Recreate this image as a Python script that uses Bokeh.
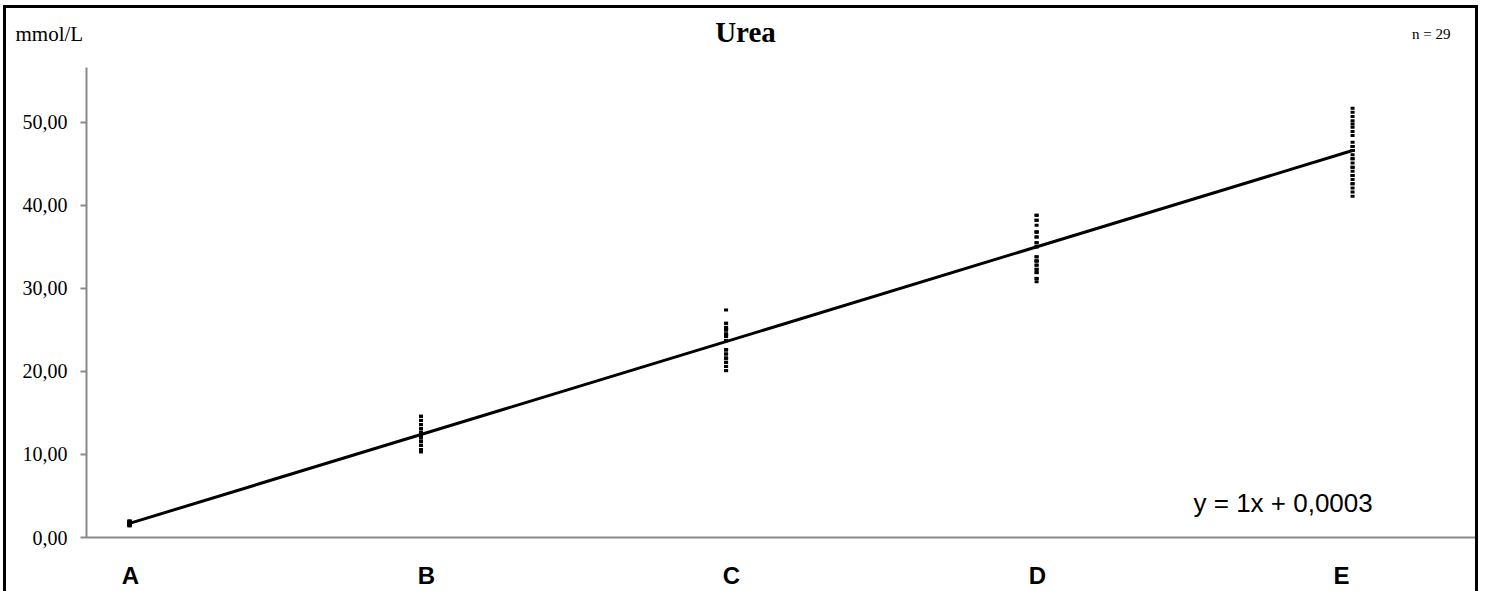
from bokeh.plotting import figure
from bokeh.models import Range1d, FixedTicker, Label, ColumnDataSource
from bokeh.core.properties import value
from bokeh.embed import file_html
from bokeh.resources import INLINE

# ---- data ----
levels = ["A", "B", "C", "D", "E"]
targets = [1.7, 12.4, 23.6, 35.0, 46.6]
vals_A = [1.4, 1.6, 1.8, 2.0, 1.6, 1.8, 1.7, 1.7, 1.6, 1.8, 1.9, 1.5, 1.7, 1.8, 1.6,
          1.7, 1.9, 1.8, 1.6, 1.7, 1.5, 1.8, 1.7, 1.6, 2.0, 1.7, 1.8, 1.6, 1.4]
vals_B = [14.6, 14.1, 13.6, 13.1, 12.6, 12.1, 11.6, 11.1, 10.6, 10.3, 14.6, 14.1, 13.6, 13.1, 12.6,
          12.1, 11.6, 11.1, 10.6, 13.6, 13.1, 12.6, 12.1, 11.6, 12.6, 12.1, 13.1, 11.1, 12.6]
vals_C = [27.4, 25.8, 25.3, 25.0, 24.5, 24.2, 23.7, 22.6, 22.1, 21.6, 21.1, 20.6, 20.1, 25.8, 25.3,
          25.0, 24.5, 24.2, 23.7, 22.6, 22.1, 21.6, 21.1, 20.6, 20.1, 22.6, 21.6, 24.5, 25.0]
vals_D = [38.8, 38.2, 37.6, 36.8, 36.2, 35.5, 35.0, 33.8, 33.3, 32.8, 32.3, 31.9, 31.2, 30.8, 38.8,
          38.2, 36.8, 36.2, 35.5, 35.0, 35.0, 33.8, 33.3, 33.3, 32.8, 32.3, 31.9, 31.2, 36.8]
vals_E = [51.7, 51.2, 50.7, 50.2, 49.8, 49.4, 48.9, 48.4, 47.6, 47.1, 46.6, 46.1, 45.6, 45.1, 44.6,
          44.1, 43.6, 43.1, 42.6, 42.1, 41.6, 41.1, 47.1, 46.6, 46.6, 45.6, 44.6, 43.6, 42.6]
slope = 1.0
intercept = 0.0003
y_ticks = [0, 10, 20, 30, 40, 50]
title_text = "Urea"
unit_text = "mmol/L"
n_text = "n = 29"
eq_text = "y = 1x + 0,0003"

# ---- layout (window pixel coordinates of the reference) ----
BW = 3                            # black frame width
CL, CR, CT = 6, 1481, 8           # content box inside the black frame
HB = 60                           # header / plot split
FL, FR, FT, FB = 86, 1479, 67, 538  # plot frame edges
LABEL_PX = [130, 426, 731, 1037, 1341]  # x-axis category label centres
W = CR - CL
H_HEAD = HB - CT
H_MAIN = 591 - HB
X0, X1 = 0.12, 51.26
Y0, Y1 = 0.0, 56.6
border = f"{BW}px solid black"


def dx(px):
    return X0 + (px - FL) / (FR - FL) * (X1 - X0)


def dy(py):
    return Y0 + (FB - py) / (FB - FT) * (Y1 - Y0)


# header with the texts (separate root so its frame is not aligned with the plot)
hd = figure(width=W, height=H_HEAD + BW, output_backend="svg", toolbar_location=None,
            x_range=Range1d(CL, CR), y_range=Range1d(HB, CT),
            x_axis_location=None, y_axis_location=None,
            min_border=0, min_border_left=0, min_border_right=0,
            min_border_top=0, min_border_bottom=0,
            margin=(CT - BW, 0, 0, CL - BW),
            styles={"border-top": border, "border-left": border, "border-right": border})
hd.grid.visible = False
hd.outline_line_color = None
hd.text(x=[15], y=[32], text=[unit_text], text_font=value("Liberation Serif"),
        text_font_size="21px", text_baseline="middle", text_align="left", text_color="black")
hd.text(x=[745], y=[30], text=[title_text], text_font=value("Liberation Serif"),
        text_font_style="bold", text_font_size="29px", text_baseline="middle",
        text_align="center", text_color="black")
hd.text(x=[1450], y=[32], text=[n_text], text_font=value("Liberation Serif"),
        text_font_size="15px", text_baseline="middle", text_align="right", text_color="black")

# main plot
p = figure(width=W, height=H_MAIN, output_backend="svg", toolbar_location=None,
           x_range=Range1d(X0, X1), y_range=Range1d(Y0, Y1),
           min_border_left=FL - CL, min_border_right=CR - FR,
           min_border_top=FT - HB, min_border_bottom=591 - FB,
           margin=(0, 0, 0, CL - BW),
           styles={"border-left": border, "border-right": border})
p.outline_line_color = None
p.grid.visible = False

xs, ys = [], []
for t, vals in zip(targets, [vals_A, vals_B, vals_C, vals_D, vals_E]):
    xs += [t] * len(vals)
    ys += vals
src = ColumnDataSource(dict(x=xs, y=ys))
p.rect("x", "y", width=4, height=3, width_units="screen", height_units="screen",
       source=src, fill_color="black", line_color=None)

lx = [targets[0], targets[-1]]
ly = [slope * v + intercept for v in lx]
p.line(lx, ly, line_color="black", line_width=3)

ax_col = "#898989"
yax = p.yaxis[0]
yax.ticker = FixedTicker(ticks=y_ticks)
yax.major_label_overrides = {t: f"{t:.2f}".replace(".", ",") for t in y_ticks}
yax.axis_line_color = ax_col
yax.axis_line_width = 2
yax.major_tick_line_color = ax_col
yax.major_tick_line_width = 2
yax.major_tick_in = 0
yax.major_tick_out = 6
yax.minor_tick_line_color = None
yax.major_label_text_font = "Liberation Serif"
yax.major_label_text_font_size = "20px"
yax.major_label_text_color = "black"
yax.major_label_standoff = 13

label_ticks = [dx(v) for v in LABEL_PX]
xax = p.xaxis[0]
xax.ticker = FixedTicker(ticks=label_ticks)
xax.major_label_overrides = {t: l for t, l in zip(label_ticks, levels)}
xax.axis_line_color = ax_col
xax.axis_line_width = 2
xax.major_tick_line_color = None
xax.major_tick_in = 0
xax.major_tick_out = 0
xax.minor_tick_line_color = None
xax.major_label_text_font = "Liberation Sans"
xax.major_label_text_font_style = "bold"
xax.major_label_text_font_size = "24px"
xax.major_label_text_color = "black"
xax.major_label_standoff = 24

p.add_layout(Label(x=dx(1193), y=dy(503), text=eq_text, text_font="Liberation Sans",
                   text_font_size="26px", text_baseline="middle", text_align="left",
                   text_color="black"))

open("out.html", "w").write(file_html([hd, p], INLINE))
